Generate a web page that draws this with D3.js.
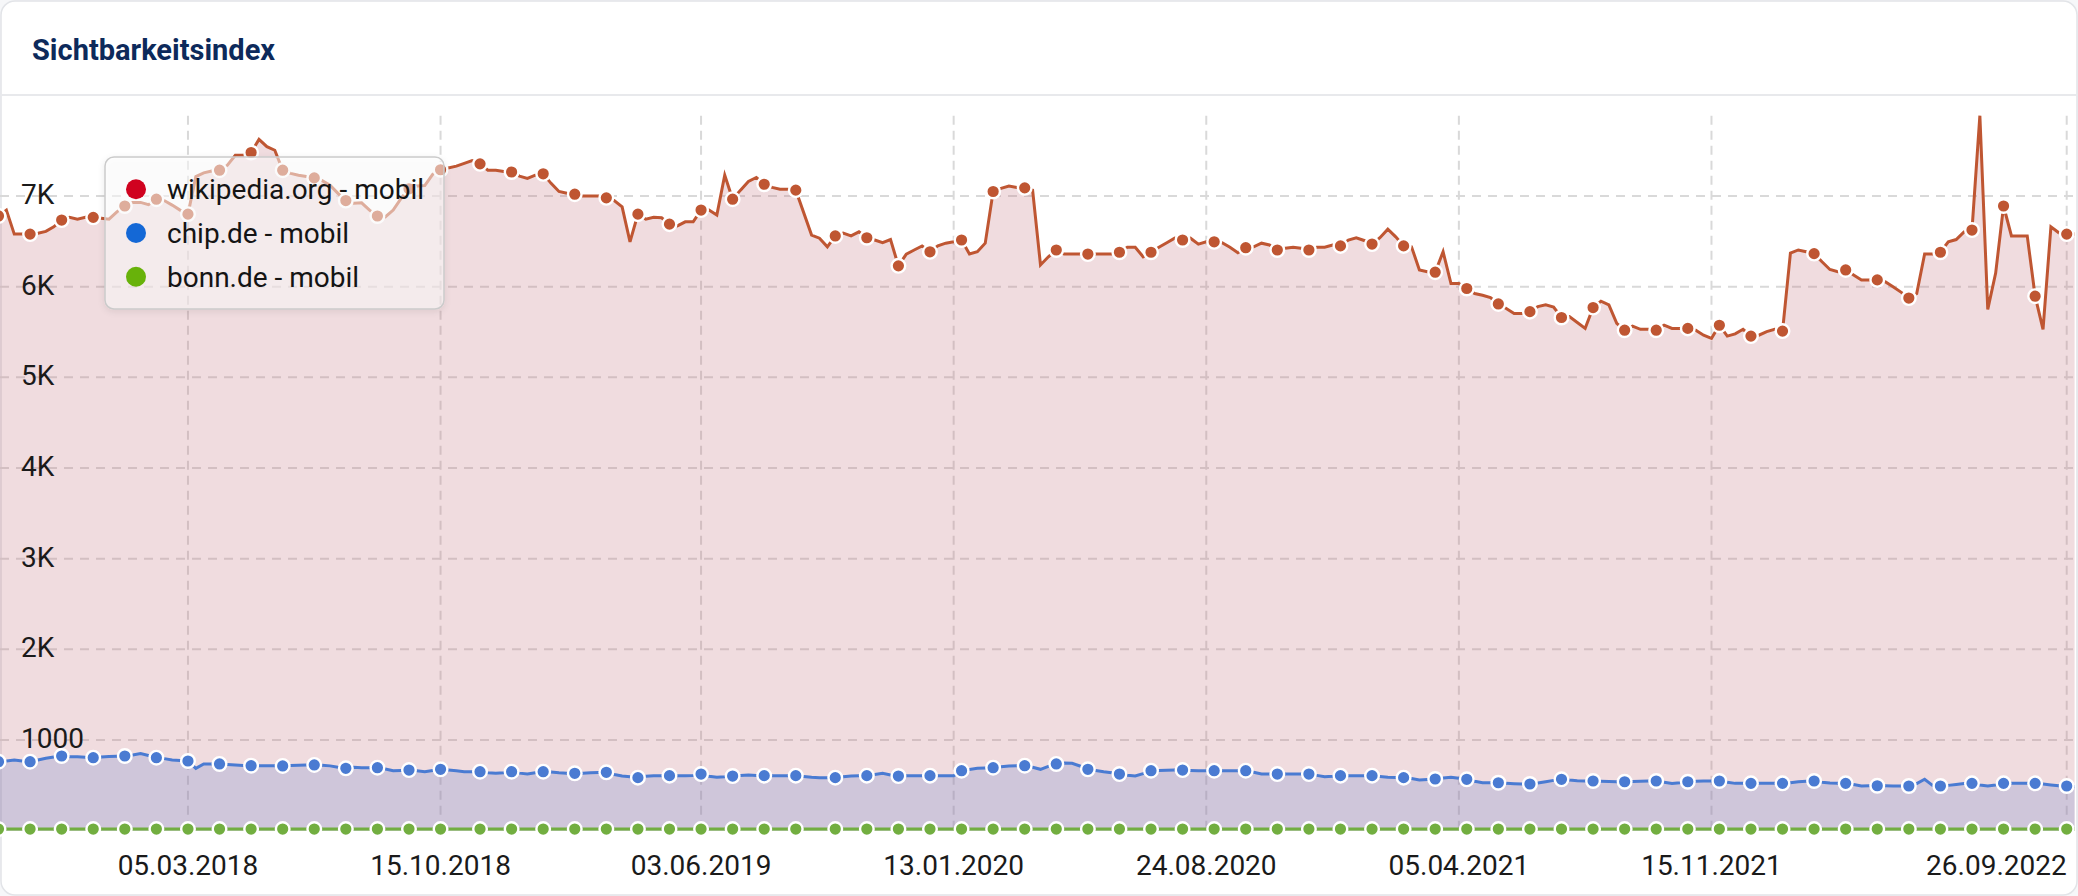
<!DOCTYPE html>
<html>
<head>
<meta charset="utf-8">
<script src="https://cdn.jsdelivr.net/npm/d3@7"></script>
<style>
    html, body { margin: 0; padding: 0; background: #f6f7f9; }
    svg { display: block; font-family: Roboto, "Noto Sans", sans-serif; }
</style>
</head>
<body>
<div id="chart"></div>
<script>

/* Data: one value per week (Mondays), null = no data that week */
const firstWeek = "18.09.2017";
const lastWeek = "03.10.2022";

const xTickLabels = ["05.03.2018", "15.10.2018", "03.06.2019", "13.01.2020",
    "24.08.2020", "05.04.2021", "15.11.2021", "26.09.2022"];
const yTickValues = [1000, 2000, 3000, 4000, 5000, 6000, 7000];
const yTickLabels = ["1000", "2K", "3K", "4K", "5K", "6K", "7K"];

const seriesNames = ["wikipedia.org - mobil", "chip.de - mobil", "bonn.de - mobil"];

const wikipediaValues = [
    6780, 6845, 6580, 6580, 6580, 6590, 6610, 6660, 6735, 6765,
    6745, 6765, 6765, 6755, 6745, 6825, 6890, 6930, 6930, 6905,
    6965, 6950, 6900, 6845, 6800, 7215, 7255, 7275, 7285, 7340,
    7450, 7450, 7480, 7625, 7545, 7505, 7285, 7250, 7230, 7215,
    7200, 7170, 7120, 7030, 6950, 6920, 6925, 6845, 6780, 6770,
    6845, 6975, 7080, 7110, 7115, 7240, 7290, null, 7330, 7360,
    7390, 7355, 7285, 7285, 7270, 7265, 7220, 7195, 7230, 7245,
    7140, 7050, 7030, 7020, 7000, 7000, 7000, 6980, 6950, 6880,
    6495, 6800, 6745, 6765, 6760, 6690, 6670, 6715, 6715, 6845,
    6845, 6790, 7230, 6965, 7065, 7160, 7205, 7130, 7095, 7075,
    7075, 7065, null, 6570, 6535, 6440, 6560, 6590, 6560, 6605,
    6540, 6515, 6485, 6520, 6230, 6360, 6405, 6450, 6385, 6450,
    6480, 6495, 6515, 6360, 6385, 6480, 7050, 7085, 7110, 7095,
    7090, 7065, 6240, 6330, 6405, 6360, 6360, 6360, 6360, 6360,
    6360, 6360, 6380, 6435, 6435, 6330, 6380, 6435, 6485, 6535,
    6515, 6535, 6470, 6495, 6495, 6485, 6435, 6375, 6430, 6440,
    6480, 6460, 6405, 6425, 6435, 6425, 6405, 6435, 6435, 6460,
    6450, 6515, 6540, 6510, 6470, 6540, 6635, 6550, 6450, 6440,
    6185, 6165, 6160, 6385, 6035, 6035, 5980, 5925, 5905, 5880,
    5810, 5760, 5705, 5705, 5725, 5780, 5800, 5775, 5660, 5670,
    5605, 5540, 5770, 5840, 5800, 5595, 5520, 5565, 5530, 5530,
    5520, 5575, 5540, 5540, 5540, 5520, 5465, 5430, 5575, 5455,
    5480, 5530, 5455, 5465, 5505, 5530, 5510, 6370, 6405, 6385,
    6365, 6275, 6190, 6165, 6185, 6130, 6075, 6075, 6075, 6055,
    6000, 5940, 5875, 5925, 6360, 6360, 6380, 6495, 6520, 6605,
    6625, 7886, 5750, 6150, 6890, 6560, 6560, 6560, 5895, 5530,
    6660, 6595, 6580, 6580
];

const chipValues = [
    761, 770, 780, 770, 761, 780, 798, 812, 824, 815,
    815, 810, 805, 812, 818, 822, 824, 835, 850, 830,
    805, 795, 780, 775, 769, 688, 736, 736, 736, 730,
    725, 720, 717, 716, 715, 715, 714, 720, 722, 725,
    725, 722, 715, 700, 688, 699, 695, 695, 695, 680,
    662, 665, 669, 660, 651, 665, 677, null, 660, 651,
    651, 651, 640, 633, 640, 651, 635, 625, 640, 651,
    648, 640, 635, 633, 635, 640, 642, 644, 620, 603,
    595, 585, 600, 607, 607, 607, 607, 607, 610, 625,
    600, 589, 595, 603, 608, 614, 610, 607, 607, 607,
    607, 607, null, 589, 585, 585, 585, 595, 603, 605,
    607, 620, 633, 615, 603, 605, 607, 607, 607, 607,
    607, 607, 662, 675, 688, 692, 695, 705, 714, 716,
    717, 700, 677, 710, 736, 747, 743, 714, 677, 665,
    650, 640, 625, 612, 603, 630, 662, 665, 668, 669,
    669, 665, 662, 662, 662, 662, 662, 662, 662, 645,
    625, 625, 625, 625, 625, 625, 625, 610, 596, 600,
    607, 607, 607, 607, 607, 598, 589, 587, 585, 575,
    560, 565, 570, 580, 589, 578, 567, 545, 529, 529,
    529, 522, 518, 515, 515, 525, 540, 555, 567, 558,
    552, 548, 548, 545, 542, 540, 540, 542, 545, 548,
    548, 535, 522, 530, 540, 545, 548, 548, 548, 535,
    522, 522, 522, 522, 522, 522, 522, 530, 540, 545,
    548, 535, 525, 522, 522, 510, 493, 495, 496, 495,
    493, 493, 493, 520, 567, 500, 493, 500, 510, 520,
    522, 505, 493, 505, 522, 522, 522, 522, 522, 515,
    505, 495, 493, 485
];

const bonnValues = [
    18, 18, 18, 18, 18, 18, 18, 18, 18, 18,
    18, 18, 18, 18, 18, 18, 18, 18, 18, 18,
    18, 18, 18, 18, 18, 18, 18, 18, 18, 18,
    18, 18, 18, 18, 18, 18, 18, 18, 18, 18,
    18, 18, 18, 18, 18, 18, 18, 18, 18, 18,
    18, 18, 18, 18, 18, 18, 18, null, 18, 18,
    18, 18, 18, 18, 18, 18, 18, 18, 18, 18,
    18, 18, 18, 18, 18, 18, 18, 18, 18, 18,
    18, 18, 18, 18, 18, 18, 18, 18, 18, 18,
    18, 18, 18, 18, 18, 18, 18, 18, 18, 18,
    18, 18, null, 18, 18, 18, 18, 18, 18, 18,
    18, 18, 18, 18, 18, 18, 18, 18, 18, 18,
    18, 18, 18, 18, 18, 18, 18, 18, 18, 18,
    18, 18, 18, 18, 18, 18, 18, 18, 18, 18,
    18, 18, 18, 18, 18, 18, 18, 18, 18, 18,
    18, 18, 18, 18, 18, 18, 18, 18, 18, 18,
    18, 18, 18, 18, 18, 18, 18, 18, 18, 18,
    18, 18, 18, 18, 18, 18, 18, 18, 18, 18,
    18, 18, 18, 18, 18, 18, 18, 18, 18, 18,
    18, 18, 18, 18, 18, 18, 18, 18, 18, 18,
    18, 18, 18, 18, 18, 18, 18, 18, 18, 18,
    18, 18, 18, 18, 18, 18, 18, 18, 18, 18,
    18, 18, 18, 18, 18, 18, 18, 18, 18, 18,
    18, 18, 18, 18, 18, 18, 18, 18, 18, 18,
    18, 18, 18, 18, 18, 18, 18, 18, 18, 18,
    18, 18, 18, 18, 18, 18, 18, 18, 18, 18,
    18, 18, 18, 18
];

function drawChart() {

    /* Sizes */
    const width = 2078;
    const height = 896;
    const plotTop = 115.7;
    const plotBottom = 830.7;

    const parseDate = d3.utcParse("%d.%m.%Y");
    const weeks = d3.utcMonday.range(parseDate(firstWeek), d3.utcDay.offset(parseDate(lastWeek), 1));

    /* Styles per series (line, area fill, legend dot) */
    const series = [
        { name: seriesNames[0], values: wikipediaValues, line: "#bf5632", fill: "rgb(195,115,127)", legend: "#d0021f" },
        { name: seriesNames[1], values: chipValues, line: "#4a7bd2", fill: "rgb(108,132,203)", legend: "#1468d6" },
        { name: seriesNames[2], values: bonnValues, line: "#72ae40", fill: "rgb(114,174,64)", legend: "#68b20a" }
    ];
    series.forEach(function (s) {
        s.points = weeks.map(function (w, i) { return { date: w, value: s.values[i] }; })
            .filter(function (p) { return p.value != null; });
    });

    /* Scales */
    let x = d3.scaleUtc()
        .domain([weeks[0], weeks[weeks.length - 1]])
        .range([-1.5, 2074.6]);

    let y = d3.scaleLinear()
        .domain([0, d3.max(wikipediaValues)])
        .range([plotBottom, plotTop]);

    let svg = d3.select("#chart")
        .append("svg")
        .attr("width", width)
        .attr("height", height);

    let defs = svg.append("defs");
    defs.append("filter")
        .attr("id", "legendShadow")
        .attr("x", "-10%").attr("y", "-10%").attr("width", "120%").attr("height", "130%")
        .append("feDropShadow")
        .attr("dx", 0).attr("dy", 2).attr("stdDeviation", 3)
        .attr("flood-color", "#000").attr("flood-opacity", 0.12);

    /* Card */
    svg.append("rect")
        .attr("x", 1).attr("y", 1)
        .attr("width", width - 2).attr("height", height - 2)
        .attr("rx", 14)
        .style("fill", "#fff")
        .style("stroke", "#e2e4e8")
        .style("stroke-width", 1.5);

    svg.append("text")
        .attr("x", 32).attr("y", 60)
        .style("font-size", "29px")
        .style("font-weight", 700)
        .style("fill", "#0d2a5b")
        .text("Sichtbarkeitsindex");

    svg.append("line")
        .attr("x1", 0).attr("x2", width)
        .attr("y1", 95).attr("y2", 95)
        .style("stroke", "#e8e9ec")
        .style("stroke-width", 2);

    /* Grid */
    let grid = svg.append("g");
    grid.selectAll("line.h")
        .data(yTickValues)
        .enter().append("line")
        .attr("class", "h")
        .attr("x1", 0).attr("x2", width)
        .attr("y1", function (d) { return y(d); })
        .attr("y2", function (d) { return y(d); })
        .style("stroke", "#d9d9d9")
        .style("stroke-width", 2)
        .style("stroke-dasharray", "9,7");

    let tickDates = xTickLabels.map(parseDate);
    grid.selectAll("line.v")
        .data(tickDates)
        .enter().append("line")
        .attr("class", "v")
        .attr("x1", function (d) { return x(d); })
        .attr("x2", function (d) { return x(d); })
        .attr("y1", plotTop).attr("y2", plotBottom)
        .style("stroke", "#d9d9d9")
        .style("stroke-width", 2)
        .style("stroke-dasharray", "9,6");

    /* Areas, lines, markers */
    let area = d3.area()
        .x(function (d) { return x(d.date); })
        .y0(y(0))
        .y1(function (d) { return y(d.value); });

    let line = d3.line()
        .x(function (d) { return x(d.date); })
        .y(function (d) { return y(d.value); });

    svg.selectAll("path.area")
        .data(series)
        .enter().append("path")
        .attr("class", "area")
        .attr("d", function (d) { return area(d.points); })
        .style("fill", function (d) { return d.fill; })
        .style("fill-opacity", 0.25);

    svg.selectAll("path.line")
        .data(series)
        .enter().append("path")
        .attr("class", "line")
        .attr("d", function (d) { return line(d.points); })
        .style("fill", "none")
        .style("stroke", function (d) { return d.line; })
        .style("stroke-width", 3)
        .style("stroke-linejoin", "miter");

    // markers sit on every 4th data point
    series.forEach(function (s) {
        svg.append("g")
            .selectAll("circle")
            .data(s.points.filter(function (p, i) { return i % 4 === 0; }))
            .enter().append("circle")
            .attr("cx", function (d) { return x(d.date); })
            .attr("cy", function (d) { return y(d.value); })
            .attr("r", 6.8)
            .style("fill", s.line)
            .style("stroke", "#fff")
            .style("stroke-width", 2.4);
    });

    /* Axis labels */
    svg.append("g")
        .selectAll("text")
        .data(yTickValues)
        .enter().append("text")
        .attr("x", 21)
        .attr("y", function (d) { return y(d) + 8; })
        .style("font-size", "28px")
        .style("fill", "#1a1a1a")
        .text(function (d, i) { return yTickLabels[i]; });

    svg.append("g")
        .selectAll("text")
        .data(tickDates)
        .enter().append("text")
        .attr("x", function (d) { return x(d); })
        .attr("y", 875)
        .attr("text-anchor", "middle")
        .style("font-size", "28px")
        .style("fill", "#1a1a1a")
        .text(function (d, i) { return xTickLabels[i]; })
        .each(function (d) {
            // keep the last label inside the card
            let w = this.getComputedTextLength();
            if (x(d) + w / 2 > width - 8) {
                d3.select(this).attr("text-anchor", "end");
            }
        });

    /* Legend */
    let legend = svg.append("g").attr("transform", "translate(105,157)");
    legend.append("rect")
        .attr("width", 339).attr("height", 152)
        .attr("rx", 9)
        .attr("filter", "url(#legendShadow)")
        .style("fill", "#fff")
        .style("fill-opacity", 0.5)
        .style("stroke", "#cbcbcb")
        .style("stroke-width", 1.5);

    let items = legend.selectAll("g.item")
        .data(series)
        .enter().append("g")
        .attr("class", "item")
        .attr("transform", function (d, i) { return "translate(0," + (32.3 + i * 43.7) + ")"; });

    items.append("circle")
        .attr("cx", 31).attr("cy", 0).attr("r", 10)
        .style("fill", function (d) { return d.legend; });

    items.append("text")
        .attr("x", 62).attr("y", 10)
        .style("font-size", "28px")
        .style("fill", "#141414")
        .text(function (d) { return d.name; });
}

drawChart();
</script>
</body>
</html>
